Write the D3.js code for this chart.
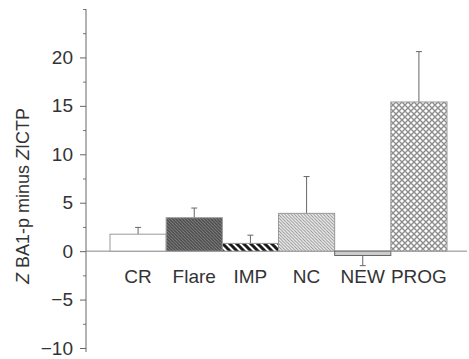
<!DOCTYPE html>
<html><head><meta charset="utf-8">
<script src="https://cdn.jsdelivr.net/npm/d3@7"></script>
<style>body{margin:0;background:#fff}svg{display:block}text{font-family:"Liberation Sans",Arial,Helvetica,sans-serif;fill:#333}</style>
</head><body><div id="c"></div>
<script>
const categories = ["CR","Flare","IMP","NC","NEW","PROG"];
const values = [1.75, 3.45, 0.8, 3.9, -0.45, 15.4];
const errors = [0.7, 1.0, 0.85, 3.8, -1.05, 5.2];
const patterns = ["none","flare","imp","nc","new","prog"];
const majorTicks = [-10,-5,0,5,10,15,20];
const minorTicks = [-7.5,-2.5,2.5,7.5,12.5,17.5,22.5,25];
const yLabel = "Z BA1-p minus Z ICTP";

const W=469,H=359;
const svg=d3.select("#c").append("svg").attr("width",W).attr("height",H);
const defs=svg.append("defs");
function stripe(id,s,bg,col,w){
  const p=defs.append("pattern").attr("id",id).attr("patternUnits","userSpaceOnUse").attr("width",s).attr("height",s);
  p.append("rect").attr("width",s).attr("height",s).attr("fill",bg);
  p.append("path").attr("d",`M${-s/2},${-s/2}L${s*1.5},${s*1.5}M${-s/2},${s/2}L${s/2},${s*1.5}M${s/2},${-s/2}L${s*1.5},${s/2}`).attr("stroke",col).attr("stroke-width",w);
}
stripe("flare",3.2,"#474747","#8a8a8a",0.9);
stripe("imp",7,"#fff","#1a1a1a",3);
stripe("nc",3.2,"#f2f2f2","#8a8a8a",0.9);
(function(){
  const s=6,p=defs.append("pattern").attr("id","prog").attr("patternUnits","userSpaceOnUse").attr("width",s).attr("height",s);
  p.append("rect").attr("width",s).attr("height",s).attr("fill","#fff");
  p.append("path").attr("d",`M0,0L${s},${s}M${s},0L0,${s}M${-s/2},${s/2}L${s/2},${s*1.5}M${s/2},${-s/2}L${s*1.5},${s/2}M${s/2},${-s/2}L${-s/2},${s/2}M${s*1.5},${s/2}L${s/2},${s*1.5}`).attr("stroke","#8c8c8c").attr("stroke-width",1.4);
})();

const y=d3.scaleLinear().domain([-10,25]).range([348,9]);
const x=d3.scaleBand().domain(categories).range([110,447]).padding(0);
const ax=86;

// axis
const ya=svg.append("g").attr("transform",`translate(${ax},0)`)
  .call(d3.axisLeft(y).tickValues(majorTicks).tickSize(6).tickPadding(7).tickFormat(d=>d<0?"\u2212"+(-d):d));
ya.select(".domain").remove();
ya.selectAll("line").attr("stroke","#666");
ya.selectAll("text").attr("font-size",19).style("fill","#333");
const ym=svg.append("g").attr("transform",`translate(${ax},0)`)
  .call(d3.axisLeft(y).tickValues(minorTicks).tickSize(3).tickFormat(""));
ym.select(".domain").remove();
ym.selectAll("line").attr("stroke","#777");
svg.append("line").attr("x1",ax).attr("x2",ax).attr("y1",y(25)).attr("y2",y(-10)+4).attr("stroke","#666");

// baseline
svg.append("line").attr("x1",ax).attr("x2",467).attr("y1",y(0)).attr("y2",y(0)).attr("stroke","#888").attr("stroke-width",1);

// error bars
categories.forEach((c,i)=>{
  const cx=x(c)+x.bandwidth()/2, y0=y(values[i]), y1=y(values[i]+errors[i]);
  svg.append("line").attr("x1",cx).attr("x2",cx).attr("y1",y0).attr("y2",y1).attr("stroke","#666");
  svg.append("line").attr("x1",cx-3).attr("x2",cx+3).attr("y1",y1).attr("y2",y1).attr("stroke","#666");
});

// bars
svg.selectAll("rect.bar").data(categories).join("rect").attr("class","bar")
  .attr("x",d=>x(d)).attr("width",x.bandwidth())
  .attr("y",(d,i)=>y(Math.max(0,values[i])))
  .attr("height",(d,i)=>Math.abs(y(values[i])-y(0)))
  .attr("fill",(d,i)=>patterns[i]==="none"?"#fff":patterns[i]==="new"?"#ccc":`url(#${patterns[i]})`)
  .attr("stroke",(d,i)=>patterns[i]==="new"?"#666":"#999").attr("stroke-width",1);

// category labels
svg.selectAll("text.cat").data(categories).join("text").attr("class","cat")
  .attr("x",d=>x(d)+x.bandwidth()/2).attr("y",283).attr("text-anchor","middle")
  .attr("font-size",19).text(d=>d);

// y label
const yl=svg.append("text").attr("transform","translate(29,196) rotate(-90)").attr("text-anchor","middle").attr("font-size",18);
yl.append("tspan").attr("font-style","italic").text("Z");
yl.append("tspan").text(" BA1-p minus ");
yl.append("tspan").attr("font-style","italic").text("Z");
yl.append("tspan").text("ICTP");
</script></body></html>
